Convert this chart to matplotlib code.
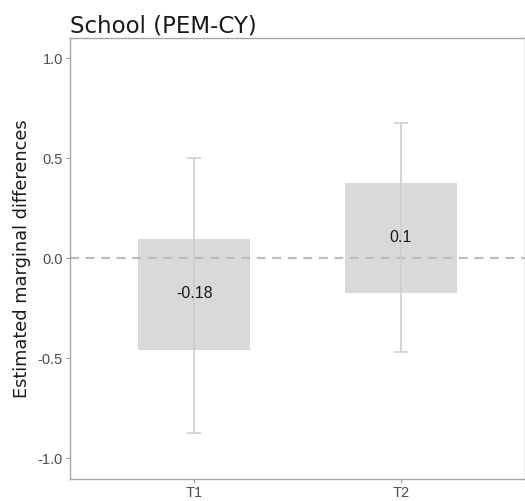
import matplotlib

matplotlib.use('Agg')
import matplotlib.pyplot as plt
import numpy as np

# Data
groups = ['T1', 'T2']
estimate = [-0.18, 0.1]
box_low = [-0.46, -0.175]
box_high = [0.095, 0.375]
ci_low = [-0.875, -0.47]
ci_high = [0.50, 0.675]
labels = ['-0.18', '0.1']

plt.rcParams['font.family'] = ['DejaVu Sans']

fig = plt.figure(figsize=(5.25, 5.01), dpi=100)
ax = fig.add_axes([70 / 525, 22 / 501, 455 / 525, 441 / 501])

x = np.arange(1, len(groups) + 1)
box_w = 0.54

# boxes (inner interval)
ax.bar(x, np.array(box_high) - np.array(box_low), bottom=box_low, width=box_w,
       color='#d9d9d9', zorder=1)

# reference line at zero
ax.axhline(0, color='#bdbdbd', linestyle=(0, (4, 3)), linewidth=1.6, zorder=2)

# error bars (outer interval)
ax.errorbar(x, estimate,
            yerr=[np.array(estimate) - np.array(ci_low), np.array(ci_high) - np.array(estimate)],
            fmt='none', ecolor='#cccccc', elinewidth=1.1, capsize=5, capthick=1.1, zorder=3)

for xi, est, lab in zip(x, estimate, labels):
    ax.text(xi, est, lab, ha='center', va='center', fontsize=11.5, color='#1a1a1a',
            family=['Liberation Sans'], zorder=4)

ax.set_xlim(0.4, 2.6)
ax.set_ylim(-1.105, 1.1)
ax.set_xticks(x)
ax.set_xticklabels(groups)
ax.set_yticks([-1.0, -0.5, 0.0, 0.5, 1.0])
ax.set_yticklabels(['-1.0', '-0.5', '0.0', '0.5', '1.0'])
for lab in ax.get_xticklabels() + ax.get_yticklabels():
    lab.set_family(['Liberation Sans'])
ax.tick_params(axis='both', colors='#a0a0a0', labelcolor='#4d4d4d', labelsize=10.5,
               length=3, width=0.8, pad=2)

for s in ax.spines.values():
    s.set_color('#a6a6a6')
    s.set_linewidth(1.0)

ax.set_ylabel('Estimated marginal differences', fontsize=12.8, color='#1a1a1a', labelpad=5)
ax.set_title('School (PEM-CY)', loc='left', fontsize=16.5, color='#1a1a1a', pad=3)

fig.savefig('out.png', dpi=100)
